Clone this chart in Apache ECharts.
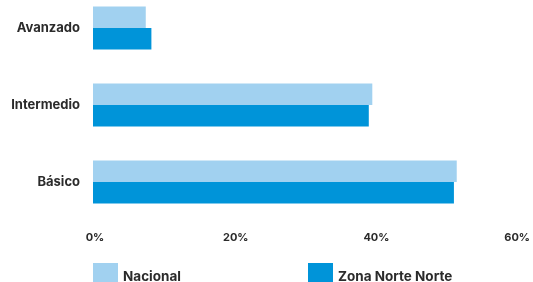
<!DOCTYPE html>
<html>
<head>
<meta charset="utf-8">
<script src="https://cdn.jsdelivr.net/npm/echarts@6/dist/echarts.min.js"></script>
<style>
html, body { margin: 0; padding: 0; background: #fff; }
#main { width: 533px; height: 282px; }
</style>
</head>
<body>
<div id="main"></div>
<script>
// niveles (de abajo hacia arriba)
var categories = ["Básico", "Intermedio", "Avanzado"];
var nacional = [51.7, 39.7, 7.5];
var zonaNorte = [51.3, 39.2, 8.3];
var xTicks = [0, 20, 40, 60];

var myChart = echarts.init(document.getElementById("main"));

var legendText = {
	rich: {
		t: { fontFamily: "Inter", fontWeight: "bold", fontSize: 13.5, color: "#2b2b2b", padding: [8, 0, 0, 0] }
	}
};

var option = {
	animation: false,
	grid: { left: 93, width: 426, top: 28, height: 154 },
	xAxis: {
		type: "value",
		min: xTicks[0],
		max: xTicks[xTicks.length - 1],
		interval: 20,
		axisLine: { show: false },
		axisTick: { show: false },
		splitLine: { show: false },
		axisLabel: {
			margin: 50,
			padding: [0, 0, 0, 4],
			fontFamily: "Inter", fontWeight: "bold", fontSize: 11, color: "#2b2b2b",
			formatter: function(v) { return v + "%"; }
		}
	},
	yAxis: {
		type: "category",
		data: categories,
		boundaryGap: false,
		axisLine: { show: false },
		axisTick: { show: false },
		axisLabel: { margin: 13, fontFamily: "Inter", fontWeight: "bold", fontSize: 13, color: "#2b2b2b" }
	},
	legend: [
		{ data: ["Nacional"], left: 93, top: 263, padding: 0, icon: "rect", itemWidth: 25, itemHeight: 20, itemGap: 7,
		  formatter: "{t|{name}}", textStyle: legendText },
		{ data: ["Zona Norte Norte"], left: 308, top: 263, padding: 0, icon: "rect", itemWidth: 25, itemHeight: 20, itemGap: 7,
		  formatter: "{t|{name}}", textStyle: legendText }
	],
	series: [
		{ name: "Nacional", type: "bar", data: nacional, barWidth: 21.5, barGap: "0%",
		  itemStyle: { color: "#a1d1f0" } },
		{ name: "Zona Norte Norte", type: "bar", data: zonaNorte, barWidth: 21.5, barGap: "0%",
		  itemStyle: { color: "#0094d9" } }
	]
};

myChart.setOption(option);
</script>
</body>
</html>
